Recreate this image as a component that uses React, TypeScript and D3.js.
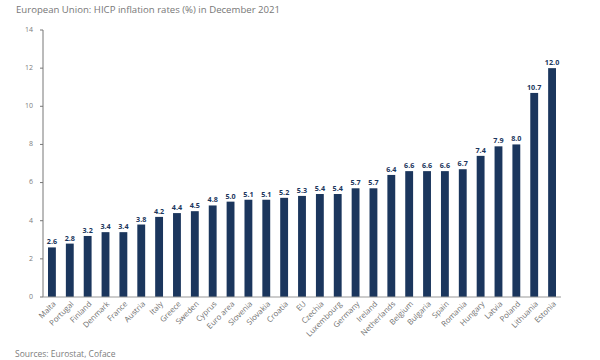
import React from "react";
import * as d3 from "d3";

const countries = ["Malta","Portugal","Finland","Denmark","France","Austria","Italy","Greece","Sweden","Cyprus","Euro area","Slovenia","Slovakia","Croatia","EU","Czechia","Luxembourg","Germany","Ireland","Netherlands","Belgium","Bulgaria","Spain","Romania","Hungary","Latvia","Poland","Lithuania","Estonia"];
const rates = [2.6,2.8,3.2,3.4,3.4,3.8,4.2,4.4,4.5,4.8,5.0,5.1,5.1,5.2,5.3,5.4,5.4,5.7,5.7,6.4,6.6,6.6,6.6,6.7,7.4,7.9,8.0,10.7,12.0];
const yTicks = [0,2,4,6,8,10,12,14];
const title = "European Union: HICP inflation rates (%) in December 2021";
const source = "Sources: Eurostat, Coface";

const W = 600, H = 360;
const left = 43, right = 561, top = 30, bottom = 297;
const barColor = "#1b365d";
const grey = "#7d7d7d";
const font = "'Open Sans', sans-serif";

export default function App() {
  const x = d3.scaleBand<string>().domain(countries).range([left, right]).paddingInner(0.56).paddingOuter(0.28);
  const y = d3.scaleLinear().domain([0, 14]).range([bottom, top]);
  return (
    <svg width={W} height={H} style={{ position: "absolute", left: 0, top: 0, background: "#fff" }} fontFamily={font}>
      <text x={16} y={13} fontSize={9.6} fill="#777">{title}</text>
      {countries.map((c, i) => (
        <g key={c}>
          <rect x={x(c)!} y={y(rates[i])} width={x.bandwidth()} height={bottom - y(rates[i])} fill={barColor} />
          <text x={x(c)! + x.bandwidth() / 2} y={y(rates[i]) - 3} textAnchor="middle" fontSize={7.2} fontWeight={700} fill={barColor}>{rates[i].toFixed(1)}</text>
          <text transform={`translate(${x(c)! + x.bandwidth() / 2 + 3},${bottom + 6}) rotate(-45)`} textAnchor="end" dominantBaseline="middle" fontSize={7.8} fill="#6f6f6f">{c}</text>
        </g>
      ))}
      <line x1={left} x2={left} y1={top} y2={bottom} stroke="#777" strokeWidth={1} />
      <line x1={left} x2={right} y1={bottom} y2={bottom} stroke="#999" strokeWidth={1} />
      {yTicks.map(t => (
        <g key={t}>
          <line x1={left - 3} x2={left} y1={y(t)} y2={y(t)} stroke="#777" />
          <text x={33} y={y(t)} textAnchor="end" dominantBaseline="middle" fontSize={7} fill={grey}>{t}</text>
        </g>
      ))}
      <text x={15} y={357} fontSize={8.5} fill={grey}>{source}</text>
    </svg>
  );
}
